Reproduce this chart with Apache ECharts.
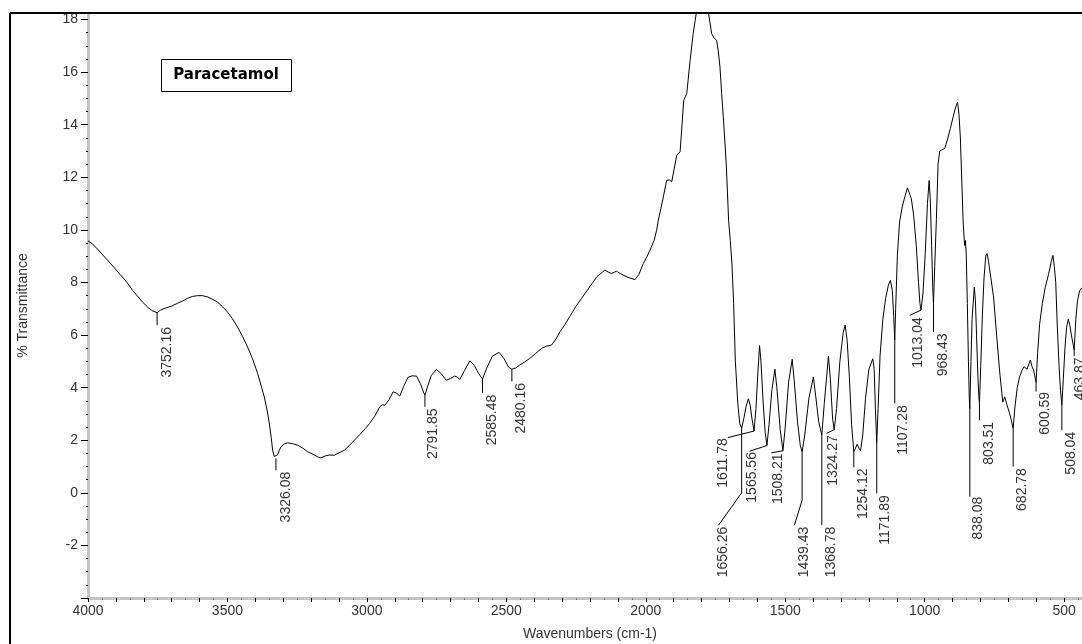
<!DOCTYPE html>
<html>
<head>
<meta charset="utf-8">
<title>Paracetamol IR</title>
<script src="https://cdn.jsdelivr.net/npm/echarts@6.0.0/dist/echarts.min.js"></script>
<style>
html, body { margin: 0; padding: 0; background: #fff; }
#chart { width: 1082px; height: 644px; }
</style>
</head>
<body>
<div id="chart"></div>
<script>
// spectrum (cm-1 / %T)
var wavenumber = [
	4000, 3985, 3960, 3930, 3905, 3883, 3860, 3840, 3820, 3805, 3785, 3770, 3752.16, 3740, 3727, 3700,
	3679, 3660, 3643, 3625, 3607, 3590, 3571, 3555, 3536, 3518, 3500, 3482, 3464, 3446, 3428, 3410,
	3392, 3380, 3368, 3358, 3350, 3343, 3338, 3332, 3326.08, 3320, 3314, 3308, 3296, 3284, 3266, 3248,
	3230, 3212, 3190, 3175, 3165, 3150, 3135, 3117, 3100, 3081, 3063, 3045, 3025, 3005, 2990, 2970,
	2954, 2945, 2936, 2920, 2906, 2895, 2882, 2868, 2853, 2838, 2822, 2808, 2796, 2791.85, 2785, 2770,
	2751, 2735, 2715, 2700, 2685, 2675, 2667, 2650, 2631, 2615, 2600, 2585.48, 2570, 2550, 2526, 2508,
	2492, 2480.16, 2466, 2452, 2434, 2416, 2395, 2374, 2356, 2338, 2322, 2308, 2290, 2270, 2250, 2230,
	2210, 2190, 2176, 2147, 2135, 2123, 2105, 2090, 2081, 2060, 2039, 2025, 2009, 1995, 1985, 1970,
	1961, 1955, 1940, 1925, 1915, 1907, 1895, 1889, 1877, 1870, 1864, 1853, 1841, 1830, 1819, 1810,
	1800, 1790, 1776, 1770, 1764, 1755, 1746, 1740, 1734, 1728, 1722, 1716, 1711, 1703, 1697, 1691,
	1685, 1679, 1670, 1663, 1656.26, 1648, 1640, 1632, 1626, 1619, 1611.78, 1605, 1598, 1592, 1587, 1580,
	1572, 1565.56, 1558, 1548, 1537, 1530, 1518, 1508.21, 1500, 1488, 1475, 1468, 1456, 1446, 1439.43, 1430,
	1415, 1399, 1392, 1380, 1368.78, 1360, 1345, 1338, 1330, 1324.27, 1316, 1304, 1292, 1285, 1278, 1270,
	1262, 1254.12, 1248, 1242, 1236, 1230, 1222, 1212, 1200, 1186, 1181, 1177, 1171.89, 1167, 1160, 1150,
	1140, 1130, 1123, 1116, 1111, 1107.28, 1104, 1098, 1090, 1080, 1070, 1062, 1055, 1048, 1040, 1030,
	1022, 1017, 1013.04, 1006, 998, 990, 984, 980, 975, 971, 968.43, 964, 958, 952, 946, 938,
	928, 918, 908, 898, 888, 882, 877, 872, 867, 862, 858, 856, 854, 851, 847, 843,
	840, 838.08, 834, 830, 822, 818, 814, 809, 806, 803.51, 799, 793, 787, 781, 776, 771,
	763, 753, 742, 731, 720, 713, 705, 695, 688, 682.78, 676, 668, 660, 651, 644, 638,
	633, 628, 621, 615, 609, 600.59, 595, 588, 578, 568, 556, 546, 540, 535, 530, 525,
	518, 513, 508.04, 503, 497, 491, 485, 480, 474, 463.87, 458, 452, 444, 436, 428, 405
];
var transmittance = [
	9.58, 9.48, 9.2, 8.85, 8.55, 8.28, 8.0, 7.7, 7.45, 7.26, 7.05, 6.93, 6.85, 6.95, 7.01, 7.1,
	7.21, 7.3, 7.4, 7.47, 7.5, 7.5, 7.45, 7.37, 7.26, 7.08, 6.88, 6.62, 6.31, 5.95, 5.55, 5.1,
	4.55, 4.1, 3.65, 3.15, 2.65, 2.1, 1.62, 1.38, 1.31, 1.45, 1.62, 1.75, 1.86, 1.9, 1.87, 1.81,
	1.7, 1.56, 1.45, 1.36, 1.33, 1.4, 1.44, 1.43, 1.52, 1.62, 1.8, 2.0, 2.22, 2.45, 2.64, 2.95,
	3.27, 3.35, 3.33, 3.55, 3.84, 3.8, 3.68, 4.05, 4.39, 4.45, 4.44, 4.15, 3.8, 3.71, 3.95, 4.45,
	4.69, 4.55, 4.28, 4.35, 4.44, 4.4, 4.31, 4.65, 5.02, 4.85, 4.55, 4.33, 4.75, 5.2, 5.34, 5.1,
	4.78, 4.7, 4.75, 4.86, 4.98, 5.11, 5.3, 5.49, 5.58, 5.62, 5.85, 6.12, 6.4, 6.75, 7.1, 7.4,
	7.7, 8.0, 8.21, 8.47, 8.4, 8.34, 8.43, 8.33, 8.28, 8.18, 8.11, 8.3, 8.72, 9.0, 9.23, 9.6,
	9.99, 10.37, 11.1, 11.89, 11.9, 11.83, 12.5, 12.84, 12.97, 14.0, 14.93, 15.19, 16.45, 17.47, 18.24, 18.5,
	18.6, 18.6, 18.3, 17.9, 17.47, 17.3, 17.21, 16.8, 16.2, 15.2, 14.3, 13.3, 12.4, 10.37, 9.6, 8.7,
	7.2, 5.05, 3.4, 2.64, 2.45, 2.85, 3.3, 3.58, 3.35, 2.8, 2.35, 3.2, 4.6, 5.6, 5.0, 3.6,
	2.3, 1.8, 2.6, 3.9, 4.7, 4.0, 2.4, 1.6, 2.5, 4.2, 5.08, 4.3, 2.7, 1.8, 1.56, 2.2,
	3.6, 4.41, 3.8, 2.7, 2.2, 3.4, 5.2, 4.3, 2.8, 2.4, 3.2, 5.0, 6.1, 6.38, 5.8, 4.4,
	2.6, 1.56, 1.7, 1.85, 1.7, 1.6, 2.2, 3.6, 4.7, 5.1, 4.7, 3.3, 1.9, 3.2, 5.2, 6.6,
	7.4, 7.9, 8.08, 7.7, 6.7, 5.8, 7.0, 9.0, 10.3, 10.9, 11.3, 11.6, 11.66, 11.2, 10.6, 9.4,
	8.0, 7.2, 6.95, 7.6, 9.1, 11.0, 11.88, 11.2, 9.4, 7.8, 7.2, 8.6, 10.4, 12.5, 13.0, 13.05,
	13.1, 13.45, 13.85, 14.3, 14.7, 14.86, 14.4, 13.5, 11.9, 10.3, 9.6, 9.4, 9.6, 9.1, 7.2, 5.0,
	3.6, 3.2, 5.0, 6.6, 7.83, 7.3, 6.0, 4.4, 3.7, 3.4, 4.8, 6.8, 8.2, 9.0, 9.1, 8.8,
	8.2, 7.45, 6.0, 4.6, 3.45, 3.65, 3.35, 3.0, 2.7, 2.45, 3.3, 4.0, 4.4, 4.65, 4.8, 4.86,
	4.7, 4.75, 5.05, 4.8, 4.65, 4.2, 5.3, 6.4, 7.2, 7.8, 8.3, 8.8, 9.03, 8.6, 8.0, 6.5,
	4.8, 3.9, 3.33, 4.3, 5.5, 6.3, 6.6, 6.4, 6.0, 5.43, 6.6, 7.3, 7.7, 7.8, 7.85, 7.95
];

// peak labels: curve point, optional bend, leader end, text top
var peakNames = ["3752.16", "3326.08", "2791.85", "2585.48", "2480.16", "1656.26", "1611.78", "1565.56",
	"1508.21", "1439.43", "1368.78", "1324.27", "1254.12", "1171.89", "1107.28", "1013.04",
	"968.43", "838.08", "803.51", "682.78", "600.59", "508.04", "463.87"];
var peakWn = [3752.16, 3326.08, 2791.85, 2585.48, 2480.16, 1656.26, 1611.78, 1565.56,
	1508.21, 1439.43, 1368.78, 1324.27, 1254.12, 1171.89, 1107.28, 1013.04,
	968.43, 838.08, 803.51, 682.78, 600.59, 508.04, 463.87];
var peakT = [6.85, 1.31, 3.71, 4.33, 4.7, 2.45, 2.35, 1.8,
	1.6, 1.56, 2.2, 2.4, 1.56, 1.9, 5.8, 6.95,
	7.2, 3.2, 3.4, 2.45, 4.2, 3.33, 5.43];
var leaderBend = [null, null, null, null, null, [1656.26, 0], null, null,
	null, [1439.43, -0.28], null, null, null, null, null, null,
	null, null, null, null, null, null, null];
var leaderEnd = [[3752.16, 6.37], [3326.08, 0.86], [2791.85, 3.27], [2585.48, 3.8], [2480.16, 4.24],
	[1739, -1.23], [1706, 2.1], [1628, 1.58], [1550, 1.52], [1467, -1.23], [1368.78, -1.23],
	[1352, 2.26], [1254.12, 0.97], [1171.89, -0.02], [1107.28, 3.4], [1053, 6.75],
	[968.43, 6.12], [838.08, -0.15], [803.51, 2.76], [682.78, 1.0], [600.59, 3.85],
	[508.04, 2.38], [463.87, 5.2]];
var textTop = [[3718, 6.31], [3290, 0.8], [2762, 3.21], [2552, 3.73], [2446, 4.18],
	[1724, -1.29], [1721, 2.08], [1620, 1.55], [1524, 1.5], [1432, -1.29], [1334, -1.29],
	[1327, 2.19], [1222, 0.93], [1141, -0.09], [1076, 3.33], [1024, 6.68],
	[934, 6.06], [809, -0.15], [769, 2.7], [651, 0.94], [569, 3.84],
	[475, 2.32], [441, 5.15]];

var chart = echarts.init(document.getElementById("chart"));

var spectrumData = [];
for (var i = 0; i < wavenumber.length; i++) {
	spectrumData.push([wavenumber[i], transmittance[i]]);
}
var labelData = [];
for (var i = 0; i < peakWn.length; i++) {
	labelData.push([peakWn[i], peakT[i], i]);
}

var textFont = '14px "Liberation Sans", Arial, sans-serif';

function renderPeak(params, api) {
	var i = api.value(2);
	var pts = [api.coord([peakWn[i], peakT[i]])];
	if (leaderBend[i]) {
		pts.push(api.coord(leaderBend[i]));
	}
	pts.push(api.coord(leaderEnd[i]));
	var tp = api.coord(textTop[i]);
	return {
		type: 'group',
		children: [{
			type: 'polyline',
			shape: { points: pts },
			style: { stroke: '#000', lineWidth: 1, fill: null }
		}, {
			type: 'text',
			x: tp[0],
			y: tp[1],
			rotation: Math.PI / 2,
			style: {
				text: peakNames[i],
				align: 'right',
				verticalAlign: 'middle',
				font: textFont,
				fill: '#333'
			}
		}]
	};
}

var option = {
	backgroundColor: '#fff',
	animation: false,
	grid: {
		left: 88,
		right: -10,
		top: 13,
		bottom: 46,
		outerBoundsMode: 'none'
	},
	xAxis: {
		type: 'value',
		inverse: true,
		min: 400,
		max: 4000,
		interval: 100,
		name: 'Wavenumbers (cm-1)',
		nameLocation: 'middle',
		nameGap: 29,
		nameTextStyle: { fontSize: 14, color: '#333', fontFamily: '"Liberation Sans", Arial, sans-serif' },
		axisLine: { onZero: false, lineStyle: { color: '#c4c4c4', width: 3 } },
		axisTick: { length: 4, lineStyle: { color: '#000' } },
		minorTick: { show: true, splitNumber: 2, length: 2, lineStyle: { color: '#777' } },
		axisLabel: {
			margin: 6,
			fontSize: 14,
			color: '#333',
			fontFamily: '"Liberation Sans", Arial, sans-serif',
			formatter: function (v) {
				return (v % 500 === 0 && v < 4500) ? String(v) : '';
			}
		},
		splitLine: { show: false }
	},
	yAxis: {
		type: 'value',
		min: -4,
		max: 18.25,
		interval: 2,
		name: '% Transmittance',
		nameLocation: 'middle',
		nameGap: 58,
		nameTextStyle: { fontSize: 14, color: '#333', fontFamily: '"Liberation Sans", Arial, sans-serif' },
		axisLine: { show: true, onZero: false, lineStyle: { color: '#c4c4c4', width: 3 } },
		axisTick: { show: true, length: 7, lineStyle: { color: '#000' } },
		minorTick: { show: true, splitNumber: 4, length: 2, lineStyle: { color: '#000' } },
		axisLabel: {
			margin: 10,
			fontSize: 14,
			color: '#333',
			fontFamily: '"Liberation Sans", Arial, sans-serif',
			formatter: function (v) {
				return (Math.abs(v % 2) < 1e-9 && v > -3) ? String(v) : '';
			}
		},
		splitLine: { show: false }
	},
	graphic: [
		{ type: 'line', shape: { x1: 10, y1: 13, x2: 1082, y2: 13 }, style: { stroke: '#000', lineWidth: 2 }, z: 100 },
		{ type: 'line', shape: { x1: 10, y1: 13, x2: 10, y2: 644 }, style: { stroke: '#000', lineWidth: 2 }, z: 100 },
		{ type: 'rect', shape: { x: 161.5, y: 59.5, width: 130, height: 32 }, style: { fill: '#fff', stroke: '#000', lineWidth: 1 }, z: 100 },
		{ type: 'text', x: 226, y: 75, style: { text: 'Paracetamol', font: 'bold 15px "DejaVu Sans", sans-serif', align: 'center', verticalAlign: 'middle', fill: '#000' }, z: 101 }
	],
	series: [{
		type: 'line',
		data: spectrumData,
		showSymbol: false,
		symbol: 'none',
		clip: true,
		lineStyle: { color: '#000', width: 1 },
		silent: true
	}, {
		type: 'custom',
		data: labelData,
		encode: { x: 0, y: 1 },
		renderItem: renderPeak,
		silent: true
	}]
};

chart.setOption(option);
</script>
</body>
</html>
